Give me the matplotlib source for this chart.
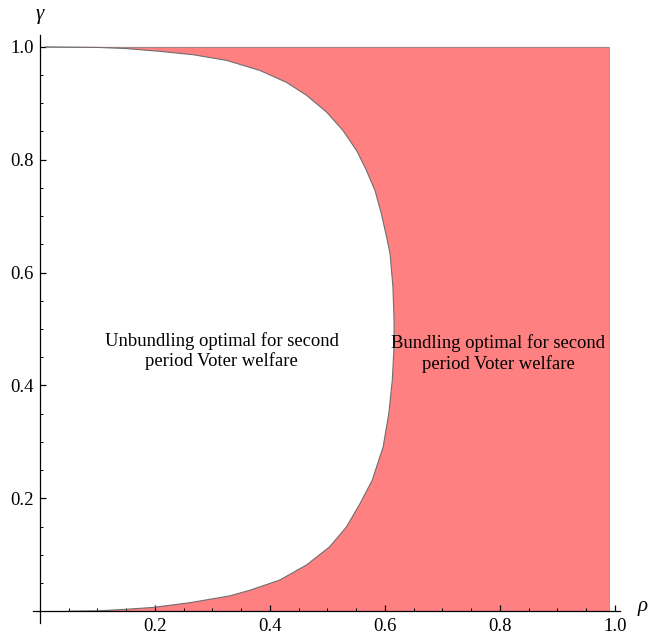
import matplotlib
matplotlib.use("Agg")
import matplotlib.pyplot as plt
from matplotlib.ticker import FixedLocator

# Boundary of the region, ordered from top (gamma=1) to bottom (gamma=0)
boundary_gamma = [1.000, 0.999, 0.997, 0.992, 0.986, 0.976, 0.958, 0.937, 0.914, 0.884,
                  0.852, 0.816, 0.781, 0.745, 0.704, 0.663, 0.634, 0.575, 0.516, 0.469,
                  0.410, 0.351, 0.291, 0.232, 0.191, 0.149, 0.114, 0.082, 0.055, 0.037,
                  0.027, 0.015, 0.0066, 0.003, 0.0005, 0.0]
boundary_rho = [0.010, 0.100, 0.150, 0.209, 0.267, 0.325, 0.383, 0.429, 0.464, 0.499,
                0.527, 0.551, 0.568, 0.583, 0.594, 0.603, 0.609, 0.614, 0.616, 0.616,
                0.613, 0.607, 0.597, 0.578, 0.557, 0.533, 0.504, 0.464, 0.417, 0.365,
                0.330, 0.261, 0.197, 0.145, 0.099, 0.050]

rho_max = 0.99
gamma_max = 1.0

x_ticks = [0.2, 0.4, 0.6, 0.8, 1.0]
y_ticks = [0.2, 0.4, 0.6, 0.8, 1.0]
tick_labels_x = ["0.2", "0.4", "0.6", "0.8", "1.0"]
tick_labels_y = ["0.2", "0.4", "0.6", "0.8", "1.0"]

label_left = "Unbundling optimal for second\nperiod Voter welfare"
label_right = "Bundling optimal for second\nperiod Voter welfare"

serif = ["Liberation Serif", "DejaVu Serif"]

fig = plt.figure(figsize=(6.53, 6.34), dpi=100)
ax = fig.add_axes([33 / 653, 11 / 634, 587 / 653, 588 / 634])

xs = boundary_rho + [rho_max, rho_max]
ys = boundary_gamma + [0.0, gamma_max]
ax.fill(xs, ys, facecolor="#FF8080", edgecolor="none", zorder=1)
# outer edges of region (top and right)
ax.plot([boundary_rho[0], rho_max, rho_max], [gamma_max, gamma_max, 0.0],
        color="#8c8c8c", lw=0.6, zorder=2)
ax.plot(boundary_rho, boundary_gamma, color="#6e6e6e", lw=0.8, zorder=3,
        solid_joinstyle="round")

ax.set_xlim(-0.012, 1.009)
ax.set_ylim(-0.021, 1.021)

for s in ["top", "right"]:
    ax.spines[s].set_visible(False)
ax.spines["left"].set_position(("data", 0))
ax.spines["bottom"].set_position(("data", 0))
for s in ["left", "bottom"]:
    ax.spines[s].set_linewidth(0.9)
    ax.spines[s].set_zorder(5)

ax.xaxis.set_major_locator(FixedLocator(x_ticks))
ax.yaxis.set_major_locator(FixedLocator(y_ticks))
ax.set_xticklabels(tick_labels_x)
ax.set_yticklabels(tick_labels_y)
ax.xaxis.set_minor_locator(FixedLocator([v / 20 for v in range(1, 21) if v % 4 != 0]))
ax.yaxis.set_minor_locator(FixedLocator([v / 20 for v in range(1, 21) if v % 4 != 0]))
ax.tick_params(which="major", direction="in", length=4, width=0.9, labelsize=13.5)
ax.tick_params(which="minor", direction="in", length=2.2, width=0.7)
ax.tick_params(axis="x", which="major", pad=5)
ax.tick_params(axis="y", which="major", pad=4.5)
for lab in ax.get_xticklabels() + ax.get_yticklabels():
    lab.set_family(serif)

ax.text(0.316, 0.461, label_left, ha="center", va="center", fontsize=13.4,
        family=serif, linespacing=1.2, zorder=6)
ax.text(0.797, 0.456, label_right, ha="center", va="center", fontsize=13.4,
        family=serif, linespacing=1.2, zorder=6)

fig.text(40 / 653, 1 - 15 / 634, "γ", ha="center", va="center", fontsize=15,
         family=serif, style="italic")
fig.text(643 / 653, 1 - 607 / 634, "ρ", ha="center", va="center", fontsize=15,
         family=serif, style="italic")

fig.savefig("out.png", dpi=100)
